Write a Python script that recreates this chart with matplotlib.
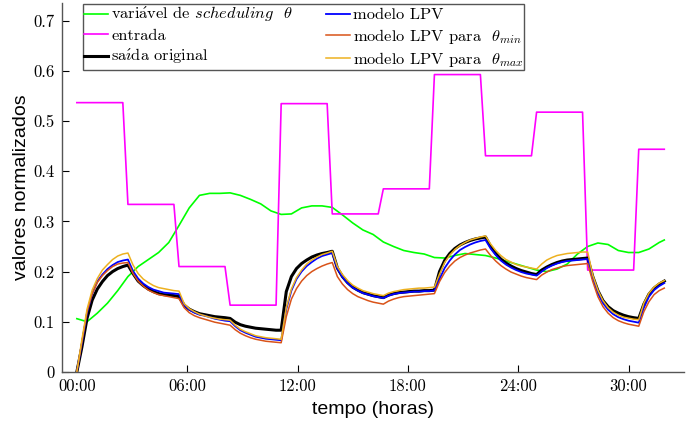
import numpy as np
import matplotlib
matplotlib.use('Agg')
import matplotlib.pyplot as plt
from matplotlib.ticker import FixedLocator, FixedFormatter

matplotlib.rcParams['font.family'] = ['cmr10', 'DejaVu Serif']
matplotlib.rcParams['mathtext.fontset'] = 'cm'
matplotlib.rcParams['axes.unicode_minus'] = False

# sample time of the simulation (s)
Ts = 1000
n_samples = 116

# step input levels (each held for 10 samples)
entrada_niveis = [0.537, 0.334, 0.210, 0.133, 0.535, 0.315,
                  0.365, 0.593, 0.431, 0.518, 0.203, 0.444]

saida = [0, 0.05, 0.107, 0.143, 0.165, 0.18, 0.192, 0.2, 0.206, 0.21, 0.213,
         0.196, 0.181, 0.172, 0.165, 0.16, 0.156, 0.154, 0.153, 0.152, 0.150,
         0.133, 0.125, 0.12, 0.116, 0.114, 0.112, 0.11, 0.109, 0.108, 0.1065,
         0.099, 0.094, 0.091, 0.089, 0.087, 0.086, 0.085, 0.084, 0.083, 0.083,
         0.16, 0.19, 0.206, 0.216, 0.223, 0.229, 0.233, 0.236, 0.238, 0.2405,
         0.207, 0.19, 0.178, 0.169, 0.163, 0.158, 0.155, 0.152, 0.15, 0.148,
         0.153, 0.156, 0.158, 0.159, 0.16, 0.161, 0.161, 0.162, 0.162, 0.163,
         0.2, 0.222, 0.236, 0.246, 0.253, 0.258, 0.262, 0.265, 0.267, 0.269,
         0.25, 0.236, 0.225, 0.217, 0.211, 0.206, 0.202, 0.199, 0.196, 0.194,
         0.203, 0.209, 0.214, 0.218, 0.221, 0.223, 0.224, 0.225, 0.226, 0.227,
         0.19, 0.162, 0.142, 0.13, 0.122, 0.117, 0.113, 0.11, 0.108, 0.1065,
         0.135, 0.155, 0.167, 0.175, 0.181]

lpv = [0, 0.058, 0.118, 0.156, 0.18, 0.194, 0.205, 0.213, 0.219, 0.222, 0.224,
       0.201, 0.186, 0.176, 0.169, 0.164, 0.161, 0.158, 0.157, 0.156, 0.155,
       0.133, 0.124, 0.118, 0.114, 0.112, 0.109, 0.106, 0.104, 0.102, 0.101,
       0.091, 0.083, 0.078, 0.074, 0.07, 0.068, 0.066, 0.065, 0.064, 0.063,
       0.125, 0.162, 0.185, 0.2, 0.211, 0.219, 0.226, 0.231, 0.234, 0.237,
       0.206, 0.189, 0.177, 0.168, 0.162, 0.157, 0.154, 0.151, 0.149, 0.147,
       0.152, 0.155, 0.157, 0.158, 0.159, 0.16, 0.16, 0.161, 0.161, 0.162,
       0.185, 0.207, 0.222, 0.234, 0.243, 0.249, 0.254, 0.258, 0.261, 0.263,
       0.246, 0.233, 0.222, 0.214, 0.208, 0.203, 0.199, 0.196, 0.194, 0.192,
       0.2, 0.207, 0.212, 0.216, 0.219, 0.221, 0.222, 0.223, 0.224, 0.225,
       0.186, 0.157, 0.137, 0.124, 0.115, 0.109, 0.105, 0.102, 0.1, 0.098,
       0.128, 0.15, 0.163, 0.171, 0.177]

lpv_min = [0, 0.06, 0.12, 0.156, 0.178, 0.192, 0.202, 0.21, 0.215, 0.217, 0.218,
           0.196, 0.181, 0.171, 0.163, 0.158, 0.154, 0.152, 0.15, 0.148, 0.146,
           0.128, 0.118, 0.112, 0.108, 0.105, 0.102, 0.099, 0.097, 0.095, 0.093,
           0.084, 0.077, 0.072, 0.068, 0.065, 0.063, 0.061, 0.06, 0.059, 0.058,
           0.11, 0.145, 0.166, 0.181, 0.192, 0.2, 0.206, 0.211, 0.215, 0.218,
           0.19, 0.175, 0.164, 0.156, 0.15, 0.146, 0.142, 0.139, 0.137, 0.135,
           0.141, 0.145, 0.148, 0.15, 0.151, 0.152, 0.153, 0.154, 0.155, 0.156,
           0.18, 0.198, 0.211, 0.221, 0.228, 0.233, 0.237, 0.24, 0.243, 0.245,
           0.232, 0.221, 0.212, 0.205, 0.199, 0.195, 0.191, 0.188, 0.186, 0.184,
           0.193, 0.199, 0.204, 0.207, 0.21, 0.212, 0.213, 0.214, 0.215, 0.216,
           0.18, 0.15, 0.13, 0.117, 0.108, 0.102, 0.098, 0.095, 0.093, 0.091,
           0.12, 0.14, 0.154, 0.162, 0.167]

lpv_max = [0, 0.065, 0.125, 0.163, 0.186, 0.203, 0.214, 0.224, 0.231, 0.235, 0.237,
           0.213, 0.196, 0.185, 0.178, 0.172, 0.168, 0.166, 0.164, 0.162, 0.161,
           0.136, 0.126, 0.12, 0.115, 0.112, 0.109, 0.107, 0.105, 0.104, 0.103,
           0.093, 0.085, 0.08, 0.076, 0.072, 0.07, 0.068, 0.067, 0.066, 0.065,
           0.128, 0.165, 0.188, 0.203, 0.215, 0.223, 0.229, 0.234, 0.237, 0.2405,
           0.21, 0.194, 0.182, 0.173, 0.167, 0.162, 0.159, 0.156, 0.154, 0.152,
           0.157, 0.16, 0.162, 0.164, 0.165, 0.166, 0.167, 0.167, 0.168, 0.169,
           0.195, 0.218, 0.233, 0.244, 0.252, 0.258, 0.263, 0.266, 0.269, 0.271,
           0.255, 0.242, 0.232, 0.224, 0.219, 0.214, 0.211, 0.209, 0.207, 0.205,
           0.215, 0.223, 0.228, 0.232, 0.234, 0.236, 0.237, 0.238, 0.239, 0.239,
           0.193, 0.163, 0.142, 0.128, 0.119, 0.113, 0.109, 0.107, 0.105, 0.104,
           0.137, 0.157, 0.169, 0.177, 0.182]

# scheduling variable, read every second sample
theta_amostras = list(range(0, 116, 2)) + [115]
theta = [0.106, 0.100, 0.117, 0.137, 0.162, 0.190, 0.210, 0.224, 0.238, 0.258,
         0.292, 0.327, 0.352, 0.356, 0.356, 0.357, 0.352, 0.344, 0.335, 0.321,
         0.314, 0.315, 0.327, 0.331, 0.331, 0.328, 0.313, 0.297, 0.283, 0.274,
         0.259, 0.250, 0.242, 0.238, 0.235, 0.228, 0.227, 0.232, 0.236, 0.234,
         0.232, 0.227, 0.221, 0.215, 0.209, 0.203, 0.200, 0.205, 0.215, 0.235,
         0.250, 0.257, 0.254, 0.242, 0.238, 0.238, 0.245, 0.258, 0.263]

tick_horas = [0, 6, 12, 18, 24, 30]
tick_labels = ['00:00', '06:00', '12:00', '18:00', '24:00', '30:00']
ytick_vals = [0, 0.1, 0.2, 0.3, 0.4, 0.5, 0.6, 0.7]
ytick_labels = ['0', '0.1', '0.2', '0.3', '0.4', '0.5', '0.6', '0.7']

legendas = [r'vari$\mathrm{\acute{a}}$vel de $\mathit{scheduling}$  $\theta$',
            'entrada',
            r'sa$\mathrm{\acute{\imath}}$da original',
            'modelo LPV',
            r'modelo LPV para  $\theta_{min}$',
            r'modelo LPV para  $\theta_{max}$']

t = np.arange(n_samples) * Ts / 3600.0
t_theta = np.array(theta_amostras) * Ts / 3600.0
u = np.repeat(entrada_niveis, 10)[:n_samples]

fig = plt.figure(figsize=(6.92, 4.23), dpi=100)
ax = fig.add_axes([0.089, 0.121, 0.899, 0.871])

ax.plot(t_theta, theta, color='#00ff00', lw=1.2, label=legendas[0])
ax.plot(t, u, color='#ff00ff', lw=1.2, label=legendas[1])
ax.plot(t, saida, color='black', lw=2.2, label=legendas[2])
ax.plot(t, lpv, color='#0000ff', lw=1.3, label=legendas[3])
ax.plot(t, lpv_min, color='#d95319', lw=1.1, label=legendas[4])
ax.plot(t, lpv_max, color='#edb120', lw=1.1, label=legendas[5])

ax.set_xlim(-0.83, 33.0)
ax.set_ylim(0, 0.735)
ax.xaxis.set_major_locator(FixedLocator(tick_horas))
ax.xaxis.set_major_formatter(FixedFormatter(tick_labels))
ax.yaxis.set_major_locator(FixedLocator(ytick_vals))
ax.yaxis.set_major_formatter(FixedFormatter(ytick_labels))
ax.tick_params(direction='in', length=5, width=0.8, labelsize=12, pad=5)

for side in ['top', 'right']:
    ax.spines[side].set_visible(False)
for side in ['left', 'bottom']:
    ax.spines[side].set_color('#555555')
    ax.spines[side].set_linewidth(1.0)

ax.set_xlabel('tempo (horas)', family='Liberation Sans', fontsize=14, labelpad=5)
ax.set_ylabel('valores normalizados', family='Liberation Sans', fontsize=14, labelpad=2)

leg = ax.legend(ncol=2, loc='upper left', bbox_to_anchor=(0.034, 0.998),
                borderaxespad=0, fontsize=11.8, handlelength=1.45,
                handletextpad=0.2, columnspacing=2.0, labelspacing=0.26,
                borderpad=0.08, fancybox=False, framealpha=1)
leg.get_frame().set_edgecolor('#555555')
leg.get_frame().set_linewidth(1.0)

fig.savefig('out.png', dpi=100)
